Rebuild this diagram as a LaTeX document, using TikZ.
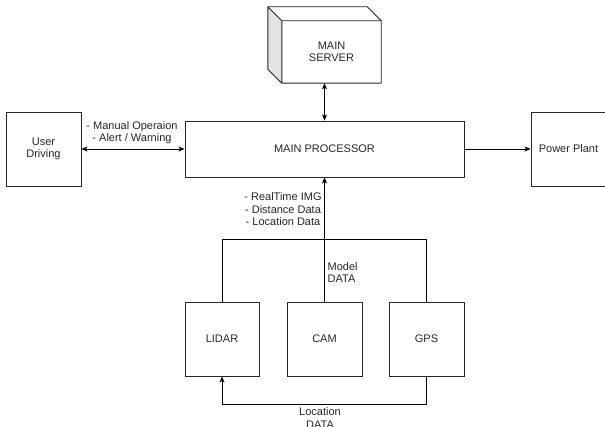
\documentclass[tikz,border=0pt]{standalone}
\usepackage{fontspec}
\setmainfont{Liberation Sans}
\usetikzlibrary{arrows.meta,calc}
\begin{document}
\begin{tikzpicture}[x=1pt,y=-1pt,
  font=\fontsize{11}{12.5}\selectfont,
  every node/.append style={text=black!85},
  box/.style={draw=black!85,line width=0.9pt,inner sep=0pt,align=center},
  lbl/.style={inner sep=0pt,align=center},
  conn/.style={draw=black,line width=0.9pt},
  arr/.style={conn,-{Stealth[length=6pt,width=5pt,inset=1.5pt]}},
  darr/.style={conn,{Stealth[length=6pt,width=5pt,inset=1.5pt]}-{Stealth[length=6pt,width=5pt,inset=1.5pt]}}
]
\useasboundingbox[fill=white] (0,0) rectangle (605,427);

% nodes
\node[box,minimum width=279pt,minimum height=56pt] (proc) at (324.5,149) {MAIN PROCESSOR};
\node[box,minimum width=75pt,minimum height=74pt] (user) at (43.5,149) {User\\Driving};
\node[box,minimum width=75pt,minimum height=74pt] (power) at (568.5,149) {Power Plant};
\node[box,minimum width=74pt,minimum height=74pt] (lidar) at (222,339) {LIDAR};
\node[box,minimum width=75pt,minimum height=74pt] (cam) at (324.5,339) {CAM};
\node[box,minimum width=75pt,minimum height=74pt] (gps) at (426.5,339) {GPS};

% server cube
\node[inner sep=0pt,minimum width=99pt,minimum height=62pt,align=center] (server) at (331.5,52) {MAIN\\SERVER};
\fill[gray!22] (server.north west) -- ++(-14,-14) -- ($(server.south west)+(-14,-14)$) -- (server.south west) -- cycle;
\draw[draw=black!85,line width=0.9pt,line join=round]
  (server.north west) -- ++(-14,-14) -- ($(server.north east)+(-14,-14)$) -- (server.north east)
  -- (server.south east) -- (server.south west) -- ++(-14,-14) -- ($(server.north west)+(-14,-14)$)
  (server.north west) -- (server.north east)
  (server.north west) -- (server.south west);

% connectors
\draw[darr] (proc.north) -- (proc.north |- server.south);
\draw[darr] (user.east) -- (proc.west);
\draw[arr] (proc.east) -- (power.west);
\draw[arr] (cam.north) -- (proc.south);
\draw[conn] (lidar.north) -- ++(0,-62) -| (gps.north);
\draw[arr] (gps.south) -- ++(0,28) -| (lidar.south);

% labels
\node[lbl] (l1) at (132,132.5) {- Manual Operaion\\- Alert / Warning};
\node[lbl] (l2) at (283,209.5) {- RealTime IMG\\- Distance Data\\- Location Data};
\node[lbl,align=left,anchor=west] (l3) at (327.5,272.5) {Model\\DATA};
\node[lbl] (l4) at (320,418) {Location\\DATA};
\end{tikzpicture}
\end{document}
